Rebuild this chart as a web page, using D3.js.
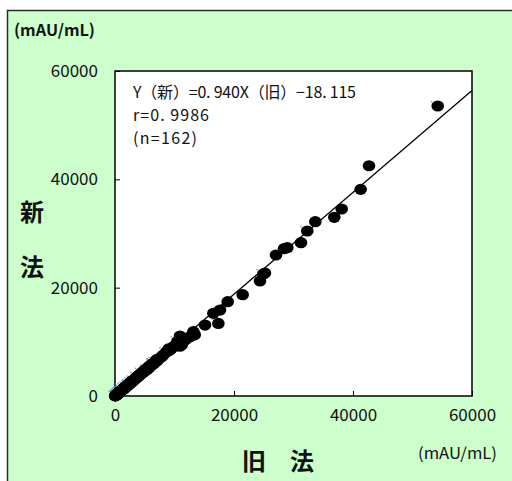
<!DOCTYPE html>
<html>
<head>
<meta charset="utf-8">
<script src="https://cdn.jsdelivr.net/npm/d3@7"></script>
<style>
  body { margin: 0; background: #fff; }
  text { font-family: "Noto Sans CJK JP", "Noto Sans", sans-serif; fill: #111; }
</style>
</head>
<body>
<div id="chart"></div>
<script>
// old method (x) / new method (y), mAU/mL
var oldVals = [54240, 42690, 41290, 38100, 36860, 33670, 32320, 31260, 28960, 28400,
    27060, 25200, 24920, 24370, 21460, 18940, 17650, 16530, 17370, 15130,
    13170, 12600, 13400, 10920, 11210, 10900, 9530, 9240, 8120, 7850,
    8600, 8900, 9800, 10300, 11600, 12000, 10500, 9000,
    7400, 7100, 6900, 6600, 6400, 6200, 6000, 5800, 5700, 5500,
    5400, 5200, 5000, 4900, 4700, 4600, 4500, 4300, 4200, 4100,
    3900, 3800, 3700, 3600, 3500, 3400, 3300, 3200, 3100, 3000,
    2950, 2900, 2800, 2700, 2650, 2600, 2500, 2450, 2400, 2300,
    2250, 2200, 2100, 2050, 2000, 1950, 1900, 1850, 1800, 1750,
    1700, 1650, 1600, 1550, 1500, 1450, 1400, 1350, 1300, 1250,
    1200, 1150, 1100, 1050, 1000, 980, 950, 900, 880, 850,
    820, 800, 780, 750, 720, 700, 680, 650, 620, 600,
    580, 550, 520, 500, 480, 450, 420, 400, 380, 350,
    320, 300, 280, 250, 220, 200, 180, 150, 130, 100,
    80, 60, 40, 20, 5600, 6300, 6800, 7000, 4800, 4000,
    3500, 2750, 2350, 1400, 1000, 500, 300, 150, 6500, 5300,
    3650, 2150];
var newVals = [53540, 42510, 38150, 34520, 32990, 32180, 30460, 28300, 27380, 27200,
    26030, 22700, 22520, 21230, 18700, 17410, 15870, 15270, 13400, 13100,
    11870, 10950, 11300, 11080, 9410, 9200, 8800, 8490, 7570, 7260,
    8100, 8300, 9100, 9500, 10200, 10500, 10100, 8700,
    6900, 6500, 6550, 6100, 6050, 5700, 5750, 5300, 5450, 5100,
    4900, 4950, 4600, 4700, 4350, 4250, 4300, 4000, 3850, 3950,
    3650, 3500, 3550, 3350, 3250, 3200, 3050, 3000, 2850, 2850,
    2700, 2750, 2600, 2500, 2550, 2400, 2350, 2250, 2300, 2150,
    2050, 2100, 1950, 1900, 1900, 1800, 1750, 1750, 1700, 1600,
    1600, 1550, 1500, 1450, 1400, 1350, 1300, 1280, 1200, 1180,
    1100, 1080, 1050, 980, 950, 900, 880, 850, 820, 800,
    760, 750, 720, 700, 680, 650, 640, 600, 590, 560,
    540, 520, 480, 470, 450, 420, 400, 380, 350, 330,
    300, 280, 260, 240, 200, 190, 170, 140, 120, 95,
    75, 55, 40, 20, 5300, 5900, 6300, 6700, 4500, 3750,
    3350, 2650, 2200, 1350, 900, 480, 300, 150, 5950, 4850,
    3450, 1950];
var xTicks = [0, 20000, 40000, 60000];
var yTicks = [0, 20000, 40000, 60000];
var slope = 0.940, intercept = -18.115;
var eqLines = ["Y（新）=0. 940X（旧）−18. 115", "r=0. 9986", "(n=162)"];
var eqWidths = [223, 76, 64];

var W = 512, H = 481;
var margin = { top: 71, right: 40, bottom: 85, left: 115 };
var width = 472 - margin.left, height = 396 - margin.top;

var svg = d3.select("#chart").append("svg")
    .attr("width", W).attr("height", H);

// green frame
svg.append("rect")
    .attr("x", 7.5).attr("y", 10.5)
    .attr("width", W).attr("height", H)
    .attr("fill", "#ccffcc").attr("stroke", "#2b2b2b").attr("stroke-width", 1.5);

var x = d3.scaleLinear().domain([0, 60000]).range([0, width]);
var y = d3.scaleLinear().domain([0, 60000]).range([height, 0]);

var g = svg.append("g").attr("transform", "translate(" + margin.left + "," + margin.top + ")");

g.append("rect").attr("width", width).attr("height", height).attr("fill", "#fff");

// axes, ticks inside
var xAxis = g.append("g").attr("transform", "translate(0," + height + ")")
    .call(d3.axisBottom(x).tickValues(xTicks).tickFormat(d3.format("d"))
        .tickSizeInner(-5).tickSizeOuter(0).tickPadding(13));
var yAxis = g.append("g")
    .call(d3.axisLeft(y).tickValues(yTicks).tickFormat(d3.format("d"))
        .tickSizeInner(-5).tickSizeOuter(0).tickPadding(17));
[xAxis, yAxis].forEach(function(a){
    a.select(".domain").remove();
    a.selectAll("line").attr("stroke", "#000");
    a.selectAll("text").style("font-size", "17px")
        .style("font-family", "\"Noto Sans CJK JP\", sans-serif").attr("fill", "#111");
});

// plot border
g.append("rect").attr("width", width).attr("height", height)
    .attr("fill", "none").attr("stroke", "#000").attr("stroke-width", 1.5);

// regression line
g.append("line")
    .attr("x1", x(0)).attr("y1", y(intercept))
    .attr("x2", x(60000)).attr("y2", y(slope * 60000 + intercept))
    .attr("stroke", "#000").attr("stroke-width", 1.3);

var pts = oldVals.map(function(d, i){ return { o: d, n: newVals[i] }; });

// little blue marker artifacts
g.selectAll(".blue").data(pts.filter(function(d, i){ return i % 6 == 0; })).enter().append("rect")
    .attr("x", function(d){ return x(d.o) - 7; })
    .attr("y", function(d){ return y(d.n) - 5; })
    .attr("width", 1.5).attr("height", 1.2)
    .attr("fill", "#5b9bd5");

g.selectAll(".pt").data(pts).enter().append("ellipse")
    .attr("cx", function(d){ return x(d.o); })
    .attr("cy", function(d){ return y(d.n); })
    .attr("rx", 6.3).attr("ry", 5.6)
    .attr("fill", "#000");

// equation text
g.selectAll(".eq").data(eqLines).enter().append("text")
    .attr("x", 18).attr("y", function(d, i){ return 27 + i * 23; })
    .attr("textLength", function(d, i){ return eqWidths[i]; })
    .attr("lengthAdjust", "spacing")
    .style("font-size", "16px")
    .text(function(d){ return d; });

// units and axis titles
svg.append("text").attr("x", 14).attr("y", 36)
    .attr("textLength", 81).attr("lengthAdjust", "spacingAndGlyphs")
    .style("font-size", "16px").style("font-weight", "bold").text("(mAU/mL)");
svg.append("text").attr("x", 418).attr("y", 459)
    .attr("textLength", 79).attr("lengthAdjust", "spacingAndGlyphs")
    .style("font-size", "16px").text("(mAU/mL)");
svg.append("text").attr("x", 32).attr("y", 221).attr("text-anchor", "middle")
    .style("font-size", "24px").style("font-weight", "bold").text("新");
svg.append("text").attr("x", 32).attr("y", 276).attr("text-anchor", "middle")
    .style("font-size", "24px").style("font-weight", "bold").text("法");
svg.append("text").attr("x", 242).attr("y", 470)
    .style("font-size", "24px").style("font-weight", "bold").text("旧　法");
</script>
</body>
</html>
